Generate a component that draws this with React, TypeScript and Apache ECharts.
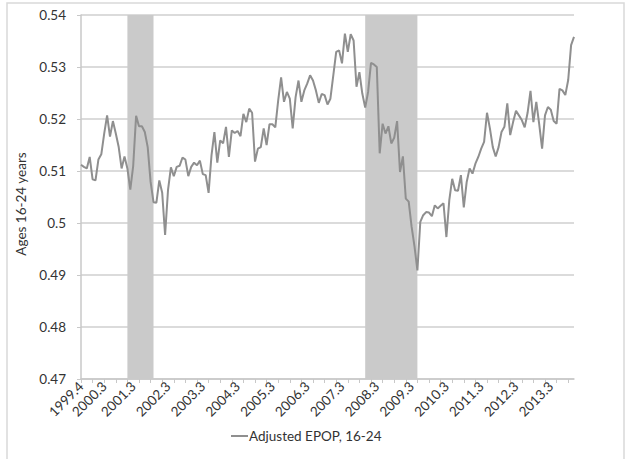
import React, { useEffect, useRef } from "react";
import * as echarts from "echarts";

// Monthly adjusted employment-population ratio, ages 16-24 (Nov 1999 onward)
const seriesName = "Adjusted EPOP, 16-24";
const values: number[] = [
  0.5112, 0.5108, 0.5105, 0.5127, 0.5084, 0.5082, 0.5122, 0.5132, 0.5172, 0.5207,
  0.5166, 0.5196, 0.5172, 0.5146, 0.5105, 0.5128, 0.5105, 0.5064, 0.511, 0.5206,
  0.5186, 0.5186, 0.5175, 0.5146, 0.5079, 0.504, 0.5039, 0.5082, 0.5058, 0.4977,
  0.5063, 0.5107, 0.509, 0.5108, 0.511, 0.5126, 0.5122, 0.509, 0.5108, 0.5116,
  0.5111, 0.512, 0.5094, 0.5092, 0.5058, 0.513, 0.5175, 0.5116, 0.5159, 0.5153,
  0.5185, 0.5127, 0.5178, 0.5173, 0.5177, 0.5167, 0.521, 0.5194, 0.522, 0.5212,
  0.5118, 0.5143, 0.5146, 0.5182, 0.515, 0.519, 0.519, 0.5184, 0.5236, 0.528,
  0.5233, 0.5252, 0.5239, 0.5182, 0.5242, 0.5274, 0.5233, 0.5255, 0.5268, 0.5284,
  0.5274, 0.5255, 0.5231, 0.5248, 0.5246, 0.5228, 0.5239, 0.5284, 0.5329, 0.5332,
  0.5307, 0.5364, 0.5329, 0.5363, 0.5351, 0.5262, 0.529, 0.5249, 0.5222, 0.5252,
  0.5308, 0.5305, 0.53, 0.5134, 0.5191, 0.5172, 0.5186, 0.5153, 0.5164, 0.5196,
  0.5098, 0.5128, 0.5047, 0.5041, 0.4993, 0.4955, 0.4909, 0.5002, 0.5015, 0.5021,
  0.502, 0.5013, 0.5034, 0.5028, 0.5033, 0.5038, 0.4973, 0.5044, 0.5085, 0.5063,
  0.5062, 0.5092, 0.503, 0.5079, 0.5105, 0.5095, 0.5114, 0.5127, 0.5143, 0.5156,
  0.5212, 0.5182, 0.5146, 0.5128, 0.5146, 0.5175, 0.5185, 0.523, 0.5169, 0.5194,
  0.5216, 0.5207, 0.5198, 0.5184, 0.5212, 0.5254, 0.5194, 0.5233, 0.519, 0.5143,
  0.5207, 0.5223, 0.5218, 0.5196, 0.5191, 0.5258, 0.5255, 0.5246, 0.5275, 0.5342,
  0.5358,
];

const startYear = 1999;
const startMonth = 11;
const categories: string[] = values.map((_, i) => {
  const m = startMonth - 1 + i;
  return `${startYear + Math.floor(m / 12)}-${String((m % 12) + 1).padStart(2, "0")}`;
});

const tickLabels = [
  "1999.4", "2000.3", "2001.3", "2002.3", "2003.3", "2004.3", "2005.3",
  "2006.3", "2007.3", "2008.3", "2009.3", "2010.3", "2011.3", "2012.3", "2013.3",
];
const tickLabelMonths = [
  "1999-11", "2000-07", "2001-05", "2002-05", "2003-05", "2004-05", "2005-05",
  "2006-05", "2007-05", "2008-05", "2009-05", "2010-05", "2011-05", "2012-05", "2013-05",
];

const recessions: [string, string][] = [
  ["2001-03", "2001-12"],
  ["2008-01", "2009-07"],
];

const yAxisTitle = "Ages 16-24 years";
const yMin = 0.47;
const yMax = 0.54;
const yStep = 0.01;

const FONT = "Lato, 'Open Sans', sans-serif";

export default function App() {
  const ref = useRef<HTMLDivElement>(null);
  useEffect(() => {
    if (!ref.current) return;
    const chart = echarts.init(ref.current, undefined, { renderer: "svg" });
    chart.setOption({
      animation: false,
      backgroundColor: "#ffffff",
      textStyle: { fontFamily: FONT },
      graphic: [
        {
          type: "rect",
          shape: { x: 7, y: 3, width: 617, height: 480 },
          style: { fill: "none", stroke: "#d9d9d9", lineWidth: 1.5 },
          silent: true,
          z: -10,
        },
      ],
      grid: { left: 81, right: 55, top: 15, bottom: 80, containLabel: false },
      legend: {
        data: [{ name: seriesName, icon: "rect" }],
        bottom: 11,
        left: 226,
        itemWidth: 17,
        itemHeight: 2,
        itemGap: 0,
        textStyle: { fontFamily: FONT, fontSize: 13.5, color: "#333333", padding: [0, 0, 0, -4] },
      },
      xAxis: {
        type: "category",
        data: categories,
        boundaryGap: false,
        axisLine: { lineStyle: { color: "#c8c8c8", width: 1.5 } },
        axisTick: { interval: 3, length: 4, lineStyle: { color: "#c8c8c8", width: 1 } },
        axisLabel: {
          interval: (_i: number, v: string) => tickLabelMonths.includes(v),
          formatter: (v: string) => tickLabels[tickLabelMonths.indexOf(v)] ?? "",
          rotate: 45,
          fontSize: 13.5,
          color: "#333333",
          fontFamily: FONT,
          margin: 5,
        },
        splitLine: { show: false },
      },
      yAxis: {
        type: "value",
        min: yMin,
        max: yMax,
        interval: yStep,
        name: yAxisTitle,
        nameLocation: "middle",
        nameGap: 51,
        nameRotate: 90,
        nameTextStyle: { fontFamily: FONT, fontSize: 13.5, color: "#333333", padding: [0, 0, 0, -14] },
        axisLine: { show: true, lineStyle: { color: "#c8c8c8", width: 1.5 } },
        axisTick: { show: true, length: 4, lineStyle: { color: "#c8c8c8" } },
        axisLabel: { fontSize: 13.5, color: "#333333", fontFamily: FONT, margin: 15 },
        splitLine: { lineStyle: { color: "#cfcfcf", width: 1.5 } },
      },
      series: [
        {
          name: seriesName,
          type: "line",
          data: values,
          symbol: "none",
          lineStyle: { color: "#8f8f8f", width: 2 },
          itemStyle: { color: "#8f8f8f" },
          markArea: {
            silent: true,
            itemStyle: { color: "#cacaca" },
            data: recessions.map(([a, b]) => [{ xAxis: a }, { xAxis: b }]),
          },
        },
      ],
    });
    return () => chart.dispose();
  }, []);
  return <div ref={ref} style={{ width: 629, height: 459, position: "absolute", left: 0, top: 0 }} />;
}
